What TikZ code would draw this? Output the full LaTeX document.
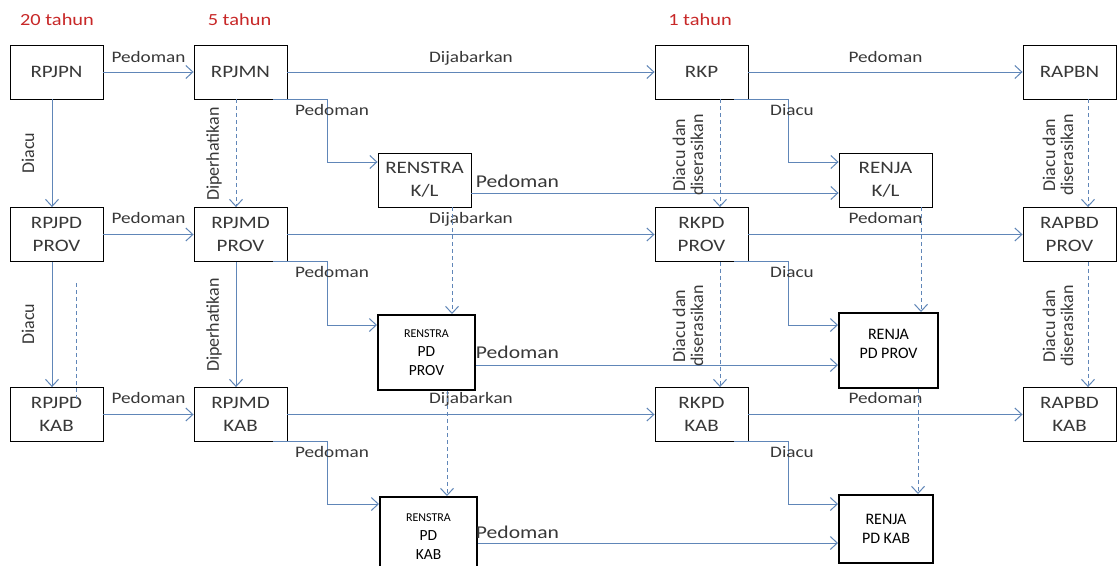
\documentclass[tikz,border=0pt]{standalone}
\usepackage{fontspec}
\setmainfont{Carlito}
\newfontfamily\boxf[FakeStretch=1.2]{Carlito}
\newfontfamily\labf[FakeStretch=1.2]{Carlito}
\usetikzlibrary{arrows.meta}
\definecolor{lineblue}{RGB}{96,134,184}
\definecolor{txt}{RGB}{56,56,56}
\definecolor{yr}{RGB}{200,40,40}
\begin{document}
\begin{tikzpicture}[x=1pt,y=-1pt,
  bx/.style={draw=black,line width=0.9pt,minimum width=93pt,minimum height=54pt,inner sep=0pt,align=center,text=txt,font=\boxf\fontsize{17.5}{23}\selectfont},
  tbx/.style={draw=black,line width=2pt,inner sep=0pt,align=center,text=black,font=\fontsize{15.5}{19}\selectfont},
  arr/.style={draw=lineblue,line width=1pt,-{Straight Barb[length=7pt,width=13pt]}},
  darr/.style={arr,dash pattern=on 4pt off 3pt},
  dline/.style={draw=lineblue,line width=1pt,dash pattern=on 4pt off 3pt},
  lab/.style={text=txt,font=\labf\fontsize{16}{18}\selectfont,inner sep=0pt,anchor=base},
  blab/.style={lab,font=\labf\fontsize{18}{20}\selectfont},
  vlab/.style={text=txt,font=\fontsize{18}{18}\selectfont,rotate=90,inner sep=0pt,align=center},
  yrs/.style={text=yr,font=\labf\fontsize{17}{20}\selectfont,inner sep=0pt,anchor=base},
]
\useasboundingbox (0,0) rectangle (1118,565);
\clip (0,0) rectangle (1118,565);
\fill[white] (0,0) rectangle (1118,565);

% year labels
\node[yrs] (y20) at (57,25) {20 tahun};
\node[yrs] (y5) at (239.5,25) {5 tahun};
\node[yrs] (y1) at (700,25) {1 tahun};

% row 1
\node[bx] (rpjpn) at (56.5,72) {RPJPN};
\node[bx] (rpjmn) at (240.5,72) {RPJMN};
\node[bx] (rkp) at (701.5,72) {RKP};
\node[bx] (rapbn) at (1069.5,72) {RAPBN};
\node[bx] (renstrakl) at (424.5,180) {RENSTRA\\K/L};
\node[bx] (renjakl) at (885.5,180) {RENJA\\K/L};

% row 2
\node[bx] (rpjpdprov) at (56.5,234.5) {RPJPD\\PROV};
\node[bx] (rpjmdprov) at (240.5,234.5) {RPJMD\\PROV};
\node[bx] (rkpdprov) at (701.5,234.5) {RKPD\\PROV};
\node[bx] (rapbdprov) at (1069.5,234.5) {RAPBD\\PROV};
\node[tbx,minimum width=97pt,minimum height=75pt] (renstrapdprov) at (426.5,352.5)
  {{\fontsize{12}{19}\selectfont RENSTRA}\\PD\\PROV};
\node[tbx,minimum width=99pt,minimum height=75pt] (renjapdprov) at (888.5,350.5) {};
\node[text=black,font=\fontsize{16}{19}\selectfont,align=center,inner sep=0pt] (renjapdprovtxt) at (888.5,343.5) {RENJA\\PD PROV};

% row 3
\node[bx] (rpjpdkab) at (56.5,414.5) {RPJPD\\KAB};
\node[bx] (rpjmdkab) at (240.5,414.5) {RPJMD\\KAB};
\node[bx] (rkpdkab) at (701.5,414.5) {RKPD\\KAB};
\node[bx] (rapbdkab) at (1069.5,414.5) {RAPBD\\KAB};
\node[tbx,minimum width=97pt,minimum height=80pt] (renstrapdkab) at (428.5,537)
  {{\fontsize{12}{19}\selectfont RENSTRA}\\PD\\KAB};
\node[tbx,minimum width=94pt,minimum height=68pt,font=\fontsize{16}{19}\selectfont] (renjapdkab) at (886,529) {RENJA\\PD KAB};

% horizontal main connectors
\draw[arr] (rpjpn) -- (rpjmn);
\draw[arr] (rpjmn) -- (rkp);
\draw[arr] (rkp) -- (rapbn);
\draw[arr] (rpjpdprov) -- (rpjmdprov);
\draw[arr] (rpjmdprov) -- (rkpdprov);
\draw[arr] (rkpdprov) -- (rapbdprov);
\draw[arr] (rpjpdkab) -- (rpjmdkab);
\draw[arr] (rpjmdkab) -- (rkpdkab);
\draw[arr] (rkpdkab) -- (rapbdkab);

\node[lab] (l1) at (148.5,62) {Pedoman};
\node[lab] (l2) at (471,62) {Dijabarkan};
\node[lab] (l3) at (885.5,62) {Pedoman};
\node[lab] (l4) at (148.5,223) {Pedoman};
\node[lab] (l5) at (471,223) {Dijabarkan};
\node[lab] (l6) at (885.5,223) {Pedoman};
\node[lab] (l7) at (148.5,403) {Pedoman};
\node[lab] (l8) at (471,403) {Dijabarkan};
\node[lab] (l9) at (885.5,403) {Pedoman};

% RENSTRA -> RENJA
\draw[arr] ([yshift=-13pt]renstrakl.east) -- ([yshift=-13pt]renjakl.west);
\draw[arr] ([yshift=-12.5pt]renstrapdprov.east) -- ([yshift=-14.5pt]renjapdprov.west);
\draw[arr] ([yshift=-6pt]renstrapdkab.east) -- ([yshift=-14pt]renjapdkab.west);
\node[blab] (b1) at (517.5,187) {Pedoman};
\node[blab] (b2) at (517.5,358) {Pedoman};
\node[blab] (b3) at (517.5,538) {Pedoman};

% elbow connectors
\coordinate (e1) at ([xshift=-14pt]rpjmn.south east);
\draw[arr] (e1) -- ++(54,0) |- ([yshift=18pt]renstrakl.west);
\coordinate (e2) at ([xshift=-14pt]rkp.south east);
\draw[arr] (e2) -- ++(54,0) |- ([yshift=18pt]renjakl.west);
\coordinate (e3) at ([xshift=-14pt]rpjmdprov.south east);
\draw[arr] (e3) -- ++(54,0) |- ([yshift=27.5pt]renstrapdprov.west);
\coordinate (e4) at ([xshift=-14pt]rkpdprov.south east);
\draw[arr] (e4) -- ++(54,0) |- ([yshift=25.5pt]renjapdprov.west);
\coordinate (e5) at ([xshift=-14pt]rpjmdkab.south east);
\draw[arr] (e5) -- ++(54,0) |- ([yshift=33pt]renstrapdkab.west);
\coordinate (e6) at ([xshift=-14pt]rkpdkab.south east);
\draw[arr] (e6) -- ++(54,0) |- ([yshift=25pt]renjapdkab.west);
\node[lab] (p1) at (332,115) {Pedoman};
\node[lab] (p2) at (792,115) {Diacu};
\node[lab] (p3) at (332,277) {Pedoman};
\node[lab] (p4) at (792,277) {Diacu};
\node[lab] (p5) at (332,457) {Pedoman};
\node[lab] (p6) at (792,457) {Diacu};

% vertical connectors
\draw[arr] ([xshift=-4.5pt]rpjpn.south) coordinate (v1) -- (v1 |- rpjpdprov.north);
\draw[arr] ([xshift=-4.5pt]rpjpdprov.south) coordinate (v2) -- (v2 |- rpjpdkab.north);
\draw[darr] ([xshift=-4.5pt]rpjmn.south) coordinate (v3) -- (v3 |- rpjmdprov.north);
\draw[arr] ([xshift=-4.5pt]rpjmdprov.south) coordinate (v4) -- (v4 |- rpjmdkab.north);
\draw[darr] ([xshift=18.5pt]rkp.south) coordinate (v5) -- (v5 |- rkpdprov.north);
\draw[darr] ([xshift=18.5pt]rkpdprov.south) coordinate (v6) -- (v6 |- rkpdkab.north);
\draw[darr] ([xshift=18.5pt]rapbn.south) coordinate (v7) -- (v7 |- rapbdprov.north);
\draw[darr] ([xshift=18.5pt]rapbdprov.south) coordinate (v8) -- (v8 |- rapbdkab.north);
\draw[darr] ([xshift=27.5pt]renstrakl.south) coordinate (v9) -- (v9 |- renstrapdprov.north);
\draw[darr] ([xshift=35.5pt]renjakl.south) coordinate (v10) -- (v10 |- renjapdprov.north);
\draw[darr] ([xshift=20.5pt]renstrapdprov.south) coordinate (v11) -- (v11 |- renstrapdkab.north);
\draw[darr] ([xshift=29.5pt]renjapdprov.south) coordinate (v12) -- (v12 |- renjapdkab.north);
\coordinate (d1) at (76,283);
\coordinate (d2) at (76,400);
\draw[dline] (d1) -- (d2);

% rotated labels
\node[vlab] (r1) at (28,153) {Diacu};
\node[vlab] (r2) at (28,324) {Diacu};
\node[vlab] (r3) at (214,154) {Diperhatikan};
\node[vlab] (r4) at (214,325) {Diperhatikan};
\node[vlab] (r5) at (688,155) {Diacu dan\\diserasikan};
\node[vlab] (r6) at (688,326) {Diacu dan\\diserasikan};
\node[vlab] (r7) at (1058,155) {Diacu dan\\diserasikan};
\node[vlab] (r8) at (1058,326) {Diacu dan\\diserasikan};
\end{tikzpicture}
\end{document}
